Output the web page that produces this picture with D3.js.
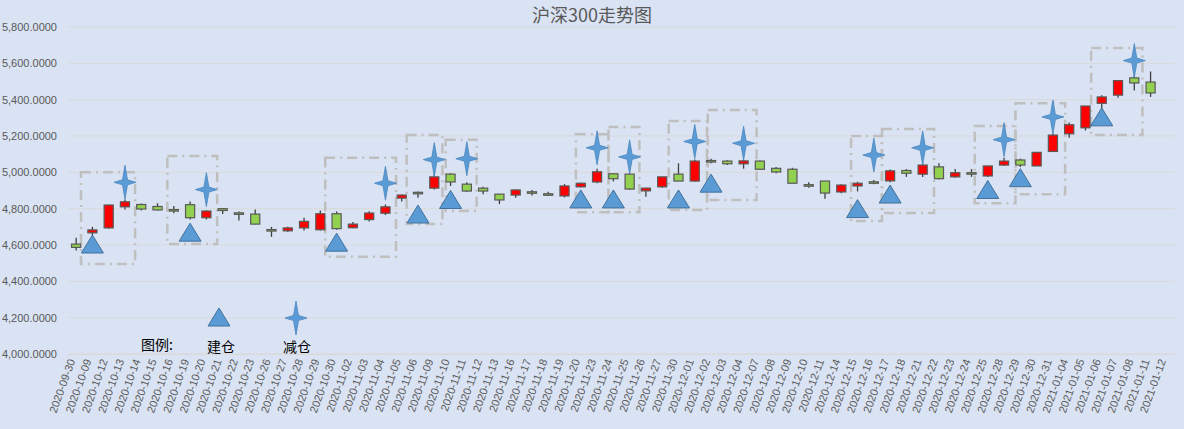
<!DOCTYPE html>
<html><head><meta charset="utf-8">
<script src="https://cdn.jsdelivr.net/npm/d3@7"></script>
<style>body{margin:0;background:#dae3f3}svg{display:block;font-family:"Noto Sans CJK SC","Noto Sans",sans-serif}</style>
</head><body><svg></svg>
<script>
const W = 1184, H = 429
const dates = ["2020-09-30","2020-10-09","2020-10-12","2020-10-13","2020-10-14","2020-10-15","2020-10-16","2020-10-19","2020-10-20","2020-10-21","2020-10-22","2020-10-23","2020-10-26","2020-10-27","2020-10-28","2020-10-29","2020-10-30","2020-11-02","2020-11-03","2020-11-04","2020-11-05","2020-11-06","2020-11-09","2020-11-10","2020-11-11","2020-11-12","2020-11-13","2020-11-16","2020-11-17","2020-11-18","2020-11-19","2020-11-20","2020-11-23","2020-11-24","2020-11-25","2020-11-26","2020-11-27","2020-11-30","2020-12-01","2020-12-02","2020-12-03","2020-12-04","2020-12-07","2020-12-08","2020-12-09","2020-12-10","2020-12-11","2020-12-14","2020-12-15","2020-12-16","2020-12-17","2020-12-18","2020-12-21","2020-12-22","2020-12-23","2020-12-24","2020-12-25","2020-12-28","2020-12-29","2020-12-30","2020-12-31","2021-01-04","2021-01-05","2021-01-06","2021-01-07","2021-01-08","2021-01-11","2021-01-12"]
const open  = [4605,4667,4694,4810,4823,4812,4795,4822,4750,4800,4777,4770,4685,4678,4694,4684,4772,4695,4740,4775,4858,4890,4913,4990,4935,4913,4880,4875,4893,4882,4870,4920,4947,4992,4990,4898,4920,4990,4952,5065,5062,5047,5062,5022,5017,4932,4952,4892,4925,4948,4953,5010,4990,5030,4975,4998,4980,5040,5068,5035,5115,5212,5245,5380,5425,5520,5497]
const close = [4587,4683,4820,4838,4798,4793,4792,4750,4787,4790,4775,4715,4682,4694,4730,4772,4690,4715,4776,4810,4875,4885,4975,4947,4897,4897,4848,4903,4891,4881,4925,4940,5003,4965,4908,4913,4975,4952,5062,5063,5047,5063,5017,5002,4940,4930,4886,4930,4940,4946,5008,4995,5040,4965,4998,4996,5035,5062,5040,5110,5205,5262,5365,5415,5505,5492,5437]
const high  = [4640,4700,4822,4850,4828,4830,4815,4840,4790,4803,4785,4795,4700,4700,4750,4790,4785,4727,4786,4823,4878,4895,4990,4995,4945,4920,4880,4905,4903,4893,4935,4942,5020,4995,4995,4915,4975,5050,5070,5075,5067,5068,5065,5030,5025,4945,4952,4935,4948,4958,5015,5018,5050,5050,5018,5018,5035,5080,5075,5112,5212,5275,5365,5425,5505,5535,5555]
const low   = [4570,4655,4690,4795,4790,4790,4775,4740,4740,4770,4735,4713,4645,4672,4680,4680,4684,4692,4730,4765,4840,4860,4905,4925,4893,4880,4825,4860,4872,4870,4862,4918,4940,4950,4905,4865,4915,4952,4950,5050,5040,5020,5015,4995,4940,4915,4855,4885,4895,4935,4945,4975,4975,4960,4970,4975,4975,5035,5030,5035,5115,5190,5230,5310,5410,5450,5415]
// 建仓 markers: [date index, value]
const buyIdx = [1,7,16,21,23,31,33,37,39,48,50,56,58,63]
const buyVal = [4600,4665,4610,4765,4845,4848,4848,4848,4935,4795,4875,4900,4965,5300]
// 减仓 markers
const sellIdx = [3,8,19,22,24,32,34,38,41,49,52,57,60,65]
const sellVal = [4945,4905,4940,5070,5075,5135,5085,5170,5160,5095,5135,5180,5305,5615]
// dashed boxes: fractional index from/to, value top/bottom
const boxFrom = [0.3,5.6,15.3,20.3,22.7,30.7,32.7,36.4,38.8,47.6,49.5,55.2,57.7,62.35]
const boxTo   = [3.62,8.66,19.65,22.5,24.6,32.7,34.6,38.75,41.8,49.5,52.7,57.7,60.75,65.5]
const boxTop  = [5000,5090,5080,5205,5180,5210,5250,5283,5343,5200,5238,5255,5380,5685]
const boxBot  = [4495,4605,4535,4715,4787,4780,4780,4793,4848,4732,4776,4830,4880,5205]
const yTicks = d3.range(4000, 5801, 200)

const svg = d3.select("svg").attr("width", W).attr("height", H)
const x = d3.scaleBand().domain(dates).range([68, 1175])
const y = d3.scaleLinear().domain([4000, 5800]).range([354, 27])
const bw = x.bandwidth()
const cx = i => x(dates[i]) + bw / 2
const fx = f => x(dates[0]) + bw / 2 + f * bw

svg.append("text").attr("x", 592).attr("y", 22).attr("text-anchor", "middle")
    .attr("font-size", 18).attr("fill", "#595959").text("沪深300走势图")

svg.append("g").selectAll("line").data(yTicks).enter().append("line")
    .attr("x1", 68).attr("x2", 1175).attr("y1", d => y(d)).attr("y2", d => y(d))
    .attr("stroke", "#d9d9d9").attr("stroke-width", 1)
svg.append("g").selectAll("text").data(yTicks).enter().append("text")
    .attr("x", 57).attr("y", d => y(d) + 4).attr("text-anchor", "end")
    .attr("font-size", 11).attr("fill", "#595959").attr("font-family", "Liberation Sans, sans-serif")
    .text(d => d3.format(",.4f")(d))

const xa = svg.append("g").attr("transform", "translate(0,354)")
    .call(d3.axisBottom(x).tickSize(0).tickPadding(6))
xa.select(".domain").attr("stroke", "#d9d9d9")
xa.selectAll("text").attr("font-size", 11).attr("fill", "#595959")
    .attr("font-family", "Liberation Sans, sans-serif")
    .attr("text-anchor", "end").attr("transform", "rotate(-70)").attr("dx", "-0.6em").attr("dy", "-0.4em")

// boxes
svg.append("g").selectAll("rect").data(boxFrom).enter().append("rect")
    .attr("x", (d, i) => fx(d)).attr("width", (d, i) => fx(boxTo[i]) - fx(d))
    .attr("y", (d, i) => y(boxTop[i])).attr("height", (d, i) => y(boxBot[i]) - y(boxTop[i]))
    .attr("fill", "none").attr("stroke", "#bfbfbf").attr("stroke-width", 2.5)
    .attr("stroke-dasharray", "10,5,2,5")

// candles
const cw = bw * 0.56
const cg = svg.append("g").selectAll("g").data(open).enter().append("g")
cg.append("line").attr("x1", (d, i) => cx(i)).attr("x2", (d, i) => cx(i))
    .attr("y1", (d, i) => y(high[i])).attr("y2", (d, i) => y(low[i]))
    .attr("stroke", "#404040").attr("stroke-width", 1.3)
cg.append("rect").attr("x", (d, i) => cx(i) - cw / 2).attr("width", cw)
    .attr("y", (d, i) => y(Math.max(d, close[i])))
    .attr("height", (d, i) => Math.max(1.5, Math.abs(y(d) - y(close[i]))))
    .attr("fill", (d, i) => close[i] >= d ? "#ff0000" : "#92d050")
    .attr("stroke", "#595959").attr("stroke-width", 1.2)

function tri(g, px, py) {
    g.append("path").attr("d", `M${px},${py - 10}L${px + 11},${py + 8}L${px - 11},${py + 8}Z`)
        .attr("fill", "#5b9bd5").attr("stroke", "#41719c").attr("stroke-width", 1)
}
function star(g, px, py) {
    g.append("path").attr("d", `M${px},${py - 17}L${px + 2.5},${py - 2.5}L${px + 11},${py}L${px + 2.5},${py + 2.5}L${px},${py + 17}L${px - 2.5},${py + 2.5}L${px - 11},${py}L${px - 2.5},${py - 2.5}Z`)
        .attr("fill", "#5b9bd5").attr("stroke", "#4a86c0").attr("stroke-width", 0.8)
}
const mg = svg.append("g")
buyIdx.forEach((d, i) => tri(mg, cx(d), y(buyVal[i])))
sellIdx.forEach((d, i) => star(mg, cx(d), y(sellVal[i])))

// legend
tri(mg, 219, 318)
star(mg, 296, 318)
const lg = svg.append("g").attr("font-size", 14).attr("fill", "#000")
lg.append("text").attr("x", 141).attr("y", 350).text("图例:")
lg.append("text").attr("x", 207).attr("y", 352).text("建仓")
lg.append("text").attr("x", 283).attr("y", 352).text("减仓")
</script></body></html>
